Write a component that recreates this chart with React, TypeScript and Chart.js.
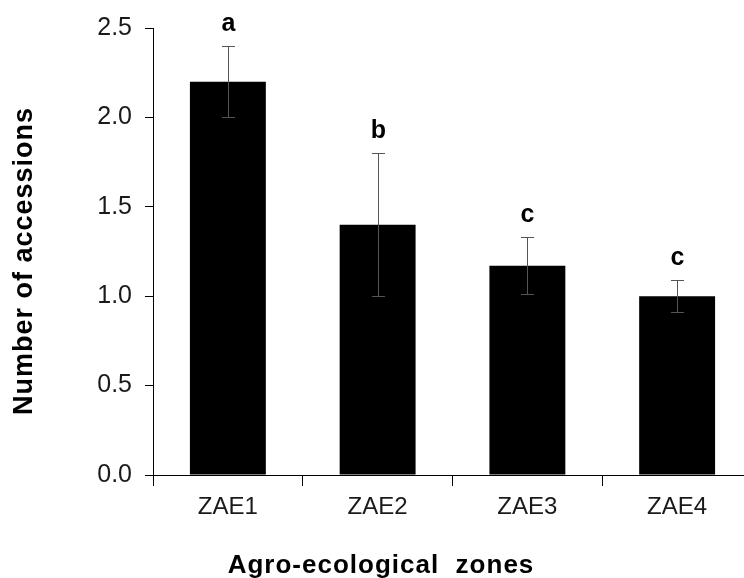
import React, { useEffect, useRef } from "react";
import { Chart, registerables } from "chart.js";

Chart.register(...registerables);

const categories = ["ZAE1", "ZAE2", "ZAE3", "ZAE4"];
const means = [2.2, 1.4, 1.17, 1.0];
const errors = [0.2, 0.4, 0.16, 0.09];
const letters = ["a", "b", "c", "c"];
const yMin = 0;
const yMax = 2.5;
const yStep = 0.5;
const xTitle = "Agro-ecological  zones";
const yTitle = "Number of accessions";

const FONT = "Arial, 'Liberation Sans', sans-serif";

const overlayPlugin = {
  id: "overlay",
  afterDatasetsDraw(chart: any) {
    const ctx = chart.ctx;
    const xs = chart.scales.x;
    const ys = chart.scales.y;
    ctx.save();
    ctx.strokeStyle = "#555";
    ctx.lineWidth = 1;
    means.forEach((m, i) => {
      const cx = Math.round(xs.getPixelForValue(i)) + 0.5;
      const top = Math.round(ys.getPixelForValue(m + errors[i])) + 0.5;
      const bot = Math.round(ys.getPixelForValue(m - errors[i])) + 0.5;
      ctx.beginPath();
      ctx.moveTo(cx, top);
      ctx.lineTo(cx, bot);
      ctx.moveTo(cx - 6.5, top);
      ctx.lineTo(cx + 6.5, top);
      ctx.moveTo(cx - 6.5, bot);
      ctx.lineTo(cx + 6.5, bot);
      ctx.stroke();
      ctx.fillStyle = "#000";
      ctx.font = `bold 25px ${FONT}`;
      ctx.textAlign = "center";
      ctx.textBaseline = "alphabetic";
      ctx.fillText(letters[i], cx, top - 16);
    });
    ctx.restore();
  },
  afterDraw(chart: any) {
    const ctx = chart.ctx;
    ctx.save();
    ctx.fillStyle = "#000";
    ctx.font = `bold 26px ${FONT}`;
    (ctx as any).letterSpacing = "1px";
    ctx.textAlign = "center";
    ctx.textBaseline = "alphabetic";
    ctx.fillText(xTitle, 381, 573);
    ctx.font = `bold 27px ${FONT}`;
    ctx.translate(25, 261);
    ctx.rotate(-Math.PI / 2);
    ctx.textBaseline = "middle";
    ctx.fillText(yTitle, 0, 0);
    ctx.restore();
  },
};

export default function App() {
  const ref = useRef<HTMLCanvasElement>(null);
  useEffect(() => {
    if (!ref.current) return;
    const chart = new Chart(ref.current, {
      type: "bar",
      data: {
        labels: categories,
        datasets: [
          {
            data: means,
            backgroundColor: "#000",
            borderWidth: 0,
            categoryPercentage: 1,
            barPercentage: 0.507,
          },
        ],
      },
      options: {
        responsive: false,
        animation: false,
        layout: { padding: { top: 28, right: 8, left: 0, bottom: 0 } },
        plugins: {
          legend: { display: false },
          tooltip: { enabled: false },
          title: { display: false },
        },
        scales: {
          x: {
            grid: {
              offset: true,
              drawOnChartArea: false,
              tickLength: 11,
              color: "#000",
            },
            border: { display: true, color: "#000", width: 1 },
            ticks: {
              color: "#1a1a1a",
              font: { family: FONT, size: 24 },
              padding: 7,
            },
            afterFit(scale: any) {
              scale.height = 103;
            },
          },
          y: {
            min: yMin,
            max: yMax,
            grid: {
              drawOnChartArea: false,
              tickLength: 8,
              color: "#000",
            },
            border: { display: true, color: "#000", width: 1 },
            ticks: {
              stepSize: yStep,
              color: "#1a1a1a",
              font: { family: FONT, size: 25 },
              padding: 13,
              callback: (v: any) => Number(v).toFixed(1),
            },
            afterFit(scale: any) {
              scale.width = 153;
            },
          },
        },
      },
      plugins: [overlayPlugin],
    });
    return () => chart.destroy();
  }, []);
  return (
    <div
      style={{
        position: "absolute",
        left: 0,
        top: 0,
        width: 744,
        height: 578,
        overflow: "hidden",
        background: "#fff",
      }}
    >
      <canvas ref={ref} width={760} height={578} style={{ display: "block" }} />
    </div>
  );
}
